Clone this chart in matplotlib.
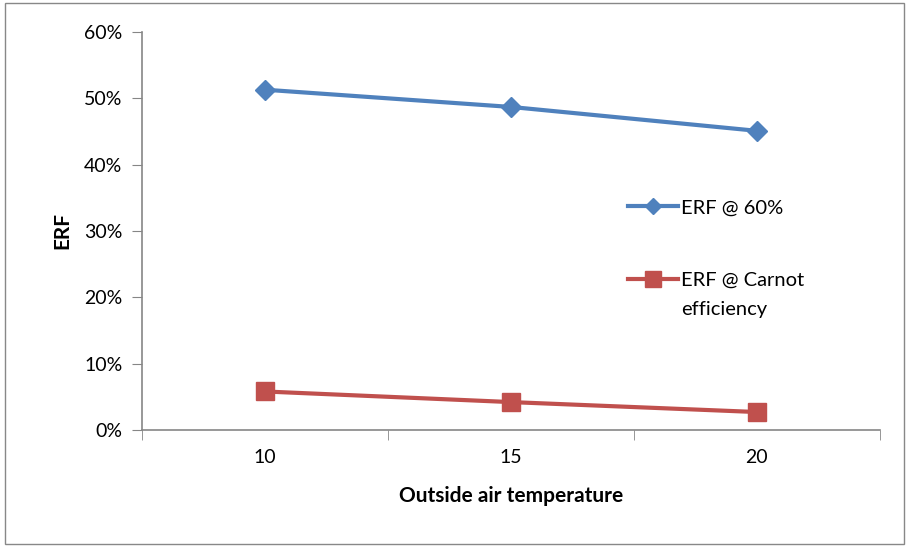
import matplotlib.pyplot as plt
from matplotlib.patches import Rectangle
from matplotlib.ticker import PercentFormatter, FixedLocator

plt.rcParams['font.family'] = ['Lato', 'DejaVu Sans']

# データ
temps = ['10', '15', '20']
erf_60 = [0.513, 0.487, 0.451]
erf_carnot = [0.058, 0.042, 0.027]

fig = plt.figure(figsize=(9.09, 5.47), dpi=100)
ax = fig.add_axes([0.156, 0.214, 0.812, 0.7275])

x = range(len(temps))
ax.plot(x, erf_60, color='#4F81BD', lw=3, marker='D', markersize=10,
        label='ERF @ 60%')
ax.plot(x, erf_carnot, color='#C0504D', lw=3, marker='s', markersize=13,
        label='ERF @ Carnot')

ax.set_xlim(-0.5, 2.5)
ax.set_ylim(0, 0.6)
ax.set_yticks([0, 0.1, 0.2, 0.3, 0.4, 0.5, 0.6])
ax.yaxis.set_major_formatter(PercentFormatter(1.0, decimals=0))
ax.set_xticks(list(x))
ax.set_xticklabels(temps)
ax.xaxis.set_minor_locator(FixedLocator([-0.5, 0.5, 1.5, 2.5]))

for s in ['top', 'right']:
    ax.spines[s].set_visible(False)
for s in ['left', 'bottom']:
    ax.spines[s].set_color('#868686')
    ax.spines[s].set_linewidth(1.2)

ax.tick_params(axis='y', direction='out', length=7, color='#868686',
               labelsize=14, pad=7)
ax.tick_params(axis='x', which='major', length=0, labelsize=14, pad=14)
ax.tick_params(axis='x', which='minor', direction='out', length=7,
               color='#868686')

ax.set_xlabel('Outside air temperature', fontsize=15, fontweight='bold',
              labelpad=14)
ax.set_ylabel('ERF', fontsize=15, fontweight='bold', labelpad=8)

leg = ax.legend(loc='upper left', bbox_to_anchor=(0.645, 0.605),
                frameon=False, fontsize=14.5, handlelength=2.5,
                labelspacing=2.75, handletextpad=0.15, borderpad=0)
leg.legend_handles[0].set_markersize(8)
leg.legend_handles[1].set_markersize(11)

# 2行目のラベル
fig.canvas.draw()
bb = leg.get_texts()[1].get_window_extent()
fig.text(bb.x0 / fig.dpi / 9.09, (bb.y0 - 29) / fig.dpi / 5.47,
         'efficiency', fontsize=14.5, va='bottom', ha='left')

# 外枠
fig.patches.append(Rectangle((0.006, 0.006), 0.988, 0.988,
                             transform=fig.transFigure, fill=False,
                             edgecolor='#888888', lw=1))

fig.savefig('out.png', dpi=100)
